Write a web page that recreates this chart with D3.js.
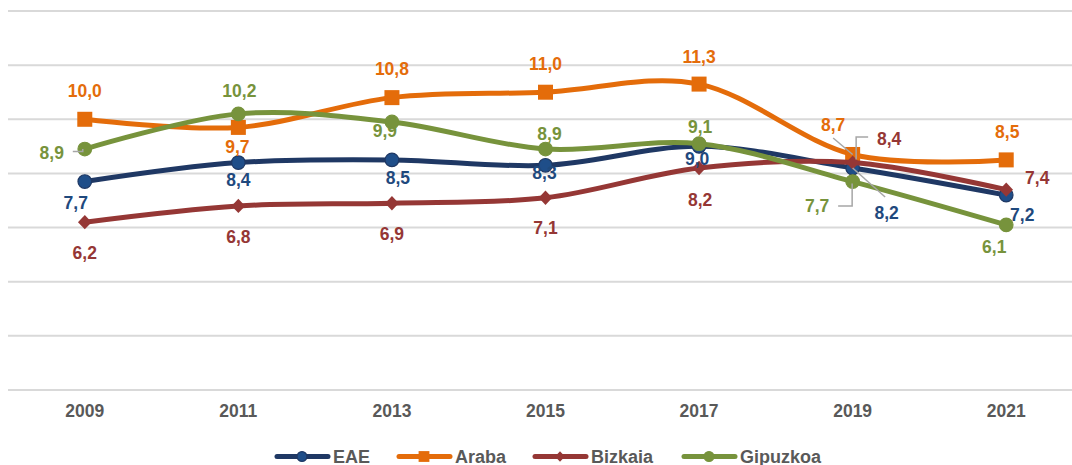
<!DOCTYPE html>
<html>
<head>
<meta charset="utf-8">
<script src="https://cdn.jsdelivr.net/npm/d3@7"></script>
<style>
body { margin: 0; background: #fff; }
text { font-family: "Liberation Sans", Arial, sans-serif; font-weight: bold; }
</style>
</head>
<body>
<svg width="1072" height="465"></svg>
<script>
// data
var years = ["2009", "2011", "2013", "2015", "2017", "2019", "2021"];
var eae = [7.7, 8.4, 8.5, 8.3, 9.0, 8.2, 7.2];
var araba = [10.0, 9.7, 10.8, 11.0, 11.3, 8.7, 8.5];
var bizkaia = [6.2, 6.8, 6.9, 7.1, 8.2, 8.4, 7.4];
var gipuzkoa = [8.9, 10.2, 9.9, 8.9, 9.1, 7.7, 6.1];
var yTicks = [0, 2, 4, 6, 8, 10, 12, 14];

// label offsets from each marker (layout only)
var offEae = [[-9, 21], [0, 17.5], [6, 18], [-1, 8], [-2, 13], [34, 45], [16, 20]];
var offAraba = [[0, -28], [-1, 20], [0, -28.5], [0, -28], [0, -27], [-19.5, -29.5], [1, -28]];
var offBizkaia = [[0, 31], [0, 31], [0, 31], [0, 30], [1, 32], [36.5, -23.5], [31, -12]];
var offGipuzkoa = [[-33, 4], [1, -23], [-7, 9], [4, -15], [1, -17], [-35.5, 24.5], [-12, 22]];

var series = [
    { name: "EAE", values: eae, line: "#1F3864", fill: "#1F4E89", label: "#1F497D", shape: "circle", off: offEae },
    { name: "Araba", values: araba, line: "#E46C0A", fill: "#E46C0A", label: "#E46C0A", shape: "square", off: offAraba },
    { name: "Bizkaia", values: bizkaia, line: "#953735", fill: "#953735", label: "#953735", shape: "diamond", off: offBizkaia },
    { name: "Gipuzkoa", values: gipuzkoa, line: "#77933C", fill: "#77933C", label: "#77933C", shape: "dot", off: offGipuzkoa }
];

// leader lines: series index, point index, polyline relative to marker
var leaders = [
    { s: 3, i: 0, pts: [[-12, 2.5], [-2, 2.5], [-2, 0]] },
    { s: 1, i: 5, pts: [[-19.5, -16.5], [0, 0]] },
    { s: 0, i: 5, pts: [[32.5, 29], [0, 0]] },
    { s: 2, i: 5, pts: [[15.5, -25.6], [3.5, -25.6], [3.5, -3]] },
    { s: 3, i: 5, pts: [[-14.5, 24.4], [-0.5, 24.4], [-0.5, 2]] }
];

var svg = d3.select("svg");

var xScale = d3.scaleBand().domain(years).range([8, 1083]);
var yScale = d3.scaleLinear().domain([0, 14]).range([390, 11]);

function cx(i) { return xScale(years[i]) + xScale.bandwidth() / 2; }

// gridlines
svg.append("g")
.selectAll("line")
.data(yTicks)
.enter()
.append("line")
.attr("x1", 8)
.attr("x2", 1072)
.attr("y1", function (d) { return yScale(d); })
.attr("y2", function (d) { return yScale(d); })
.attr("stroke", "#D9D9D9")
.attr("stroke-width", 2);

// x axis labels
var xAxis = svg.append("g")
.attr("transform", "translate(0,390)")
.call(d3.axisBottom(xScale).tickSize(0).tickPadding(15));
xAxis.select(".domain").remove();
xAxis.selectAll("text")
.attr("font-size", "17.5px")
.attr("font-family", "Liberation Sans, Arial, sans-serif")
.attr("fill", "#595959");

var line = d3.line()
.x(function (d, i) { return cx(i); })
.y(function (d) { return yScale(d); })
.curve(d3.curveCardinal.tension(0));

function drawMarker(g, shape, x, y, fill, stroke, k) {
    if (shape === "circle" || shape === "dot") {
        g.append("circle").attr("cx", x).attr("cy", y).attr("r", 6.8 * k)
        .attr("fill", fill).attr("stroke", stroke).attr("stroke-width", 1.2);
    } else if (shape === "square") {
        g.append("rect").attr("x", x - 7.5 * k).attr("y", y - 7.5 * k)
        .attr("width", 15 * k).attr("height", 15 * k).attr("fill", fill);
    } else {
        var w = 6.8 * k, h = 7.2 * k;
        g.append("path")
        .attr("d", "M" + x + "," + (y - h) + "L" + (x + w) + "," + y + "L" + x + "," + (y + h) + "L" + (x - w) + "," + y + "Z")
        .attr("fill", fill);
    }
}

// lines and markers
series.forEach(function (s) {
    var g = svg.append("g");
    g.append("path")
    .datum(s.values)
    .attr("d", line)
    .attr("fill", "none")
    .attr("stroke", s.line)
    .attr("stroke-width", 5)
    .attr("stroke-linecap", "round");
    s.values.forEach(function (v, i) {
        drawMarker(g, s.shape, cx(i), yScale(v), s.fill, s.line, 1);
    });
});

// leader lines
leaders.forEach(function (l) {
    var s = series[l.s];
    var x0 = cx(l.i), y0 = yScale(s.values[l.i]);
    svg.append("path")
    .attr("d", d3.line()(l.pts.map(function (p) { return [x0 + p[0], y0 + p[1]]; })))
    .attr("fill", "none")
    .attr("stroke", "#A6A6A6")
    .attr("stroke-width", 1.5);
});

// data labels
series.forEach(function (s) {
    svg.append("g")
    .selectAll("text")
    .data(s.values)
    .enter()
    .append("text")
    .attr("x", function (d, i) { return cx(i) + s.off[i][0]; })
    .attr("y", function (d, i) { return yScale(d) + s.off[i][1]; })
    .attr("text-anchor", "middle")
    .attr("dominant-baseline", "central")
    .attr("font-size", "17.5px")
    .attr("fill", s.label)
    .text(function (d) { return d3.format(".1f")(d).replace(".", ","); });
});

// legend
var legendX = [275, 397, 533, 682];
var legend = svg.append("g");
series.forEach(function (s, i) {
    var x = legendX[i], y = 456.5;
    legend.append("line")
    .attr("x1", x + 2).attr("x2", x + 53)
    .attr("y1", y).attr("y2", y)
    .attr("stroke", s.line)
    .attr("stroke-width", 5)
    .attr("stroke-linecap", "round");
    drawMarker(legend, s.shape, x + 27, y, s.fill, s.line, 0.72);
    legend.append("text")
    .attr("x", x + 58)
    .attr("y", y)
    .attr("dominant-baseline", "central")
    .attr("font-size", "18px")
    .attr("fill", "#595959")
    .text(s.name);
});
</script>
</body>
</html>
